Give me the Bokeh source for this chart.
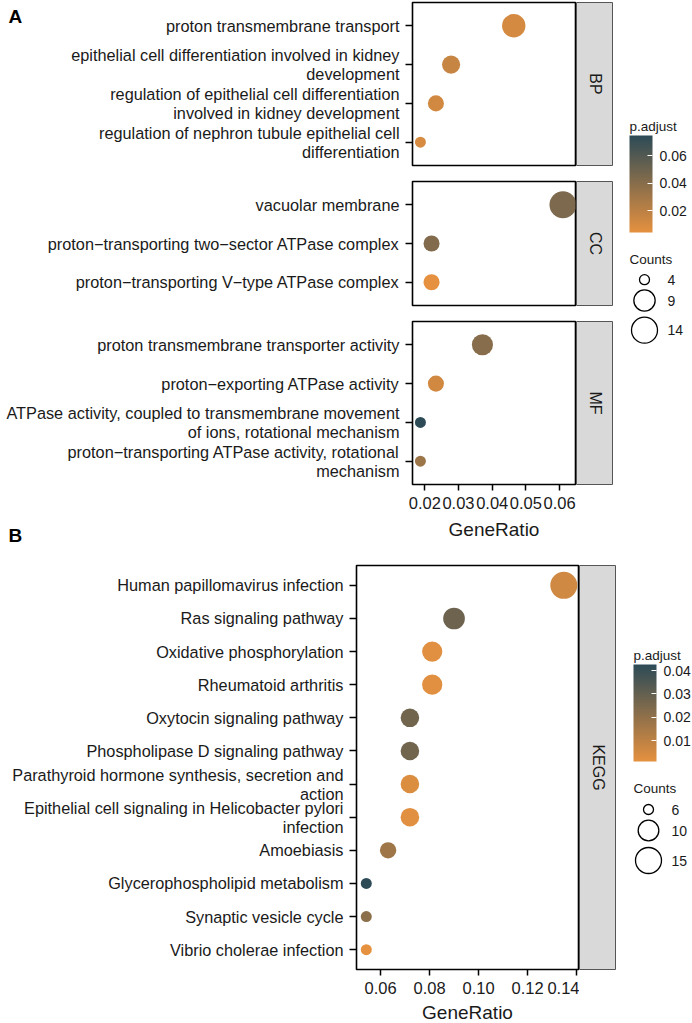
import numpy as np
from bokeh.plotting import figure
from bokeh.layouts import row, column
from bokeh.models import (Range1d, FixedTicker, LinearColorMapper, ColorBar,
                          ColumnDataSource, PrintfTickFormatter)
from bokeh.core.properties import value
from bokeh.embed import file_html
from bokeh.resources import INLINE

FONT = "Liberation Sans"
TXT = "#1a1a1a"

# ---------------- data: panel A (GO) ----------------
bp_terms = ["proton transmembrane transport",
            "epithelial cell differentiation involved in kidney\ndevelopment",
            "regulation of epithelial cell differentiation\ninvolved in kidney development",
            "regulation of nephron tubule epithelial cell\ndifferentiation"]
bp_ratio = [0.0464, 0.0278, 0.0233, 0.0187]
bp_count = [10, 6, 5, 4]
bp_padj = [0.011, 0.016, 0.012, 0.010]

cc_terms = ["vacuolar membrane",
            "proton\u2212transporting two\u2212sector ATPase complex",
            "proton\u2212transporting V\u2212type ATPase complex"]
cc_ratio = [0.0610, 0.0220, 0.0220]
cc_count = [14, 5, 5]
cc_padj = [0.044, 0.042, 0.0042]

mf_terms = ["proton transmembrane transporter activity",
            "proton\u2212exporting ATPase activity",
            "ATPase activity, coupled to transmembrane movement\nof ions, rotational mechanism",
            "proton\u2212transporting ATPase activity, rotational\nmechanism"]
mf_ratio = [0.0371, 0.0233, 0.0187, 0.0187]
mf_count = [8, 5, 4, 4]
mf_padj = [0.040, 0.012, 0.0745, 0.032]

go_xticks = [0.02, 0.03, 0.04, 0.05, 0.06]
go_cticks = [0.02, 0.04, 0.06]
go_size_breaks = [4, 9, 14]

# ---------------- data: panel B (KEGG) ----------------
kegg_terms = ["Human papillomavirus infection",
              "Ras signaling pathway",
              "Oxidative phosphorylation",
              "Rheumatoid arthritis",
              "Oxytocin signaling pathway",
              "Phospholipase D signaling pathway",
              "Parathyroid hormone synthesis, secretion and\naction",
              "Epithelial cell signaling in Helicobacter pylori\ninfection",
              "Amoebiasis",
              "Glycerophospholipid metabolism",
              "Synaptic vesicle cycle",
              "Vibrio cholerae infection"]
kegg_ratio = [0.1348, 0.0900, 0.0811, 0.0811, 0.0720, 0.0720,
              0.0720, 0.0720, 0.0631, 0.0542, 0.0542, 0.0542]
kegg_count = [15, 10, 9, 9, 8, 8, 8, 8, 7, 6, 6, 6]
kegg_padj = [0.006, 0.028, 0.002, 0.002, 0.027, 0.027,
             0.003, 0.002, 0.017, 0.0426, 0.021, 0.001]

kegg_xticks = [0.06, 0.08, 0.10, 0.12, 0.14]
kegg_cticks = [0.01, 0.02, 0.03, 0.04]
kegg_size_breaks = [6, 10, 15]

# ---------------- helpers ----------------
def mk_palette(lo, hi, n=256):
    a = np.array([int(lo[i:i + 2], 16) for i in (1, 3, 5)], float)
    b = np.array([int(hi[i:i + 2], 16) for i in (1, 3, 5)], float)
    return ["#%02x%02x%02x" % tuple(int(round(v)) for v in a + (b - a) * t)
            for t in np.linspace(0, 1, n)]

PAL = mk_palette("#E5913F", "#2C4B57")


def dsize(counts, cmin, cmax, dmin=11.0, dmax=27.0):
    c = np.asarray(counts, float)
    return list(dmin + (dmax - dmin) * np.sqrt((c - cmin) / (cmax - cmin)))


def style_axis(ax, tick_out):
    ax.axis_line_color = None
    ax.major_tick_line_color = "black"
    ax.major_tick_line_width = 1.5
    ax.major_tick_out = tick_out
    ax.major_tick_in = 0
    ax.minor_tick_line_color = None
    ax.major_label_text_font = FONT
    ax.major_label_text_color = TXT


def blank(w, h):
    f = figure(width=w, height=h, x_range=Range1d(0, w), y_range=Range1d(h, 0),
               x_axis_location=None, y_axis_location=None,
               output_backend="svg", toolbar_location=None,
               min_border_left=0, min_border_right=0,
               min_border_top=0, min_border_bottom=0)
    f.xgrid.visible = False
    f.ygrid.visible = False
    f.outline_line_color = None
    f.background_fill_color = "white"
    f.border_fill_color = "white"
    return f


def put_text(f, x, y, t, size, bold=False, align="left"):
    # y is the vertical middle of the text
    f.text(x=[x], y=[y], text=[t], text_font=value(FONT),
           text_font_size=value(size), text_font_style="bold" if bold else "normal",
           text_color="black" if bold else TXT, text_align=align,
           text_baseline="middle")


def make_panel(terms, ratio, count, padj, mapper, xr, cmin, cmax,
               left, frame_w, frame_h, top, bottom, xticks=None):
    n = len(terms)
    ys = list(range(n, 0, -1))
    p = figure(width=left + frame_w + 1, height=top + frame_h + bottom,
               x_range=Range1d(*xr), y_range=Range1d(0.4, n + 0.6),
               x_axis_location="below" if xticks else None,
               output_backend="svg", toolbar_location=None,
               min_border_left=left, min_border_right=1,
               min_border_top=top, min_border_bottom=bottom)
    p.xgrid.visible = False
    p.ygrid.visible = False
    p.outline_line_color = "black"
    p.outline_line_width = 1.6
    p.background_fill_color = "white"
    p.border_fill_color = "white"
    src = ColumnDataSource(dict(x=ratio, y=ys, s=dsize(count, cmin, cmax), c=padj))
    p.scatter("x", "y", size="s", source=src,
              fill_color={"field": "c", "transform": mapper}, line_color=None)
    ya = p.yaxis[0]
    ya.ticker = FixedTicker(ticks=ys)
    ya.major_label_overrides = {y: t for y, t in zip(ys, terms)}
    style_axis(ya, 7)
    ya.major_label_text_font_size = "16.3px"
    ya.major_label_standoff = 6
    ya.major_label_text_line_height = 1.05
    if xticks:
        xa = p.xaxis[0]
        xa.ticker = FixedTicker(ticks=xticks)
        xa.formatter = PrintfTickFormatter(format="%.2f")
        style_axis(xa, 6)
        xa.major_label_text_font_size = "16.5px"
        xa.major_label_standoff = 6
    return p


def make_strip(text, frame_h, top, bottom, w=37):
    s = figure(width=w, height=top + frame_h + bottom,
               x_range=Range1d(0, 1), y_range=Range1d(0, 1),
               x_axis_location=None, y_axis_location=None,
               output_backend="svg", toolbar_location=None,
               min_border_left=0, min_border_right=0,
               min_border_top=top, min_border_bottom=bottom)
    s.xgrid.visible = False
    s.ygrid.visible = False
    s.background_fill_color = "#D9D9D9"
    s.border_fill_color = "white"
    s.outline_line_color = "#555555"
    s.outline_line_width = 1
    s.text(x=[0.5], y=[0.5], text=[text], angle=-np.pi / 2,
           text_align="center", text_baseline="middle",
           text_font=value(FONT), text_font_size=value("16px"), text_color=TXT)
    return s


def make_legend(mapper, cticks, breaks, cmin, cmax, width, height,
                bar_left, bar_top, title_y, counts_y, circ_y, bar_h=97, bar_w=23):
    lg = blank(width, height)
    cb = ColorBar(color_mapper=mapper, ticker=FixedTicker(ticks=cticks),
                  formatter=PrintfTickFormatter(format="%.2f"),
                  width=bar_w, height=bar_h, padding=0, margin=0,
                  location=(bar_left, height - bar_top - bar_h),
                  major_label_text_font=FONT, major_label_text_font_size="14px",
                  major_label_text_color=TXT, label_standoff=7,
                  major_tick_line_color="white", major_tick_in=5,
                  major_tick_out=0, minor_tick_line_color=None,
                  bar_line_color=None, border_line_color=None,
                  background_fill_color=None)
    lg.add_layout(cb, "center")
    # white tick marks on the left edge of the bar (as ggplot draws both sides)
    lo, hi = mapper.low, mapper.high
    ty = [bar_top + bar_h * (1 - (t - lo) / (hi - lo)) for t in cticks]
    lg.segment(x0=[bar_left] * len(ty), y0=ty, x1=[bar_left + 5] * len(ty), y1=ty,
               line_color="white", line_width=1)
    put_text(lg, bar_left, title_y, "p.adjust", "13.5px")
    put_text(lg, bar_left, counts_y, "Counts", "13.5px")
    lsrc = ColumnDataSource(dict(x=[bar_left + 15] * len(breaks), y=circ_y,
                                 s=[v - 1 for v in dsize(breaks, cmin, cmax)],
                                 t=[str(b) for b in breaks],
                                 tx=[bar_left + 38] * len(breaks)))
    lg.scatter("x", "y", size="s", source=lsrc, fill_color=None,
               line_color="black", line_width=1.3)
    lg.text("tx", "y", text="t", source=lsrc, text_font=value(FONT),
            text_font_size=value("14px"), text_color=TXT,
            text_baseline="middle", text_align="left")
    return lg


# ---------------- panel A ----------------
go_all_padj = bp_padj + cc_padj + mf_padj
go_all_count = bp_count + cc_count + mf_count
go_mapper = LinearColorMapper(palette=PAL, low=min(go_all_padj), high=max(go_all_padj))
gcmin, gcmax = min(go_all_count), max(go_all_count)
go_xr = (0.01635, 0.06472)
LEFT_A, FW_A = 412, 163
BP_H, CC_H, MF_H = 163, 124, 163
MF_BOT = 34
GAP_A = 28

a_fig = blank(60, 2 + BP_H + 8)
put_text(a_fig, 8, 15, "A", "19px", bold=True)

bp = make_panel(bp_terms, bp_ratio, bp_count, bp_padj, go_mapper, go_xr, gcmin, gcmax,
                LEFT_A - 60, FW_A, BP_H, 2, 8)
cc = make_panel(cc_terms, cc_ratio, cc_count, cc_padj, go_mapper, go_xr, gcmin, gcmax,
                LEFT_A, FW_A, CC_H, 8, 8)
mf = make_panel(mf_terms, mf_ratio, mf_count, mf_padj, go_mapper, go_xr, gcmin, gcmax,
                LEFT_A, FW_A, MF_H, 8, MF_BOT, xticks=go_xticks)

bp_s = make_strip("BP", BP_H, 2, 8)
cc_s = make_strip("CC", CC_H, 8, 8)
mf_s = make_strip("MF", MF_H, 8, MF_BOT)

gapA = blank(LEFT_A + FW_A + 1 + 37, GAP_A)
put_text(gapA, 8, 17.4, "B", "19px", bold=True)
put_text(gapA, LEFT_A + FW_A / 2, 10.6, "GeneRatio", "19px", align="center")

colA = column(row(a_fig, bp, bp_s), row(cc, cc_s), row(mf, mf_s), gapA)
hA = (2 + BP_H + 8) + (8 + CC_H + 8) + (8 + MF_H + MF_BOT) + GAP_A
wA = LEFT_A + FW_A + 1 + 37
legA = make_legend(go_mapper, go_cticks, go_size_breaks, gcmin, gcmax,
                   692 - wA, hA, bar_left=16, bar_top=135, title_y=126,
                   counts_y=258.5, circ_y=[279.2, 300, 329.7])
partA = row(colA, legA)

# ---------------- panel B ----------------
kegg_mapper = LinearColorMapper(palette=PAL, low=min(kegg_padj), high=max(kegg_padj))
kcmin, kcmax = min(kegg_count), max(kegg_count)
kegg_xr = (0.0502, 0.1408)
LEFT_B, FW_B, KG_H = 356, 222, 404
KG_TOP, KG_BOT = 19, 31
kegg = make_panel(kegg_terms, kegg_ratio, kegg_count, kegg_padj, kegg_mapper, kegg_xr,
                  kcmin, kcmax, LEFT_B, FW_B, KG_H, KG_TOP, KG_BOT, xticks=kegg_xticks)
kegg_s = make_strip("KEGG", KG_H, KG_TOP, KG_BOT)
wB = LEFT_B + FW_B + 1 + 37
hB = 1023 - hA
grB_h = hB - (KG_TOP + KG_H + KG_BOT)
grB = blank(wB, grB_h)
put_text(grB, LEFT_B + FW_B / 2, grB_h - 11.5, "GeneRatio", "19px", align="center")
colB = column(row(kegg, kegg_s), grB)
legB = make_legend(kegg_mapper, kegg_cticks, kegg_size_breaks, kcmin, kcmax,
                   692 - wB, hB, bar_left=17, bar_top=118, title_y=109,
                   counts_y=242.3, circ_y=[263, 284, 314])
partB = row(colB, legB)

page = column(partA, partB)

open("out.html", "w").write(file_html(page, INLINE))
